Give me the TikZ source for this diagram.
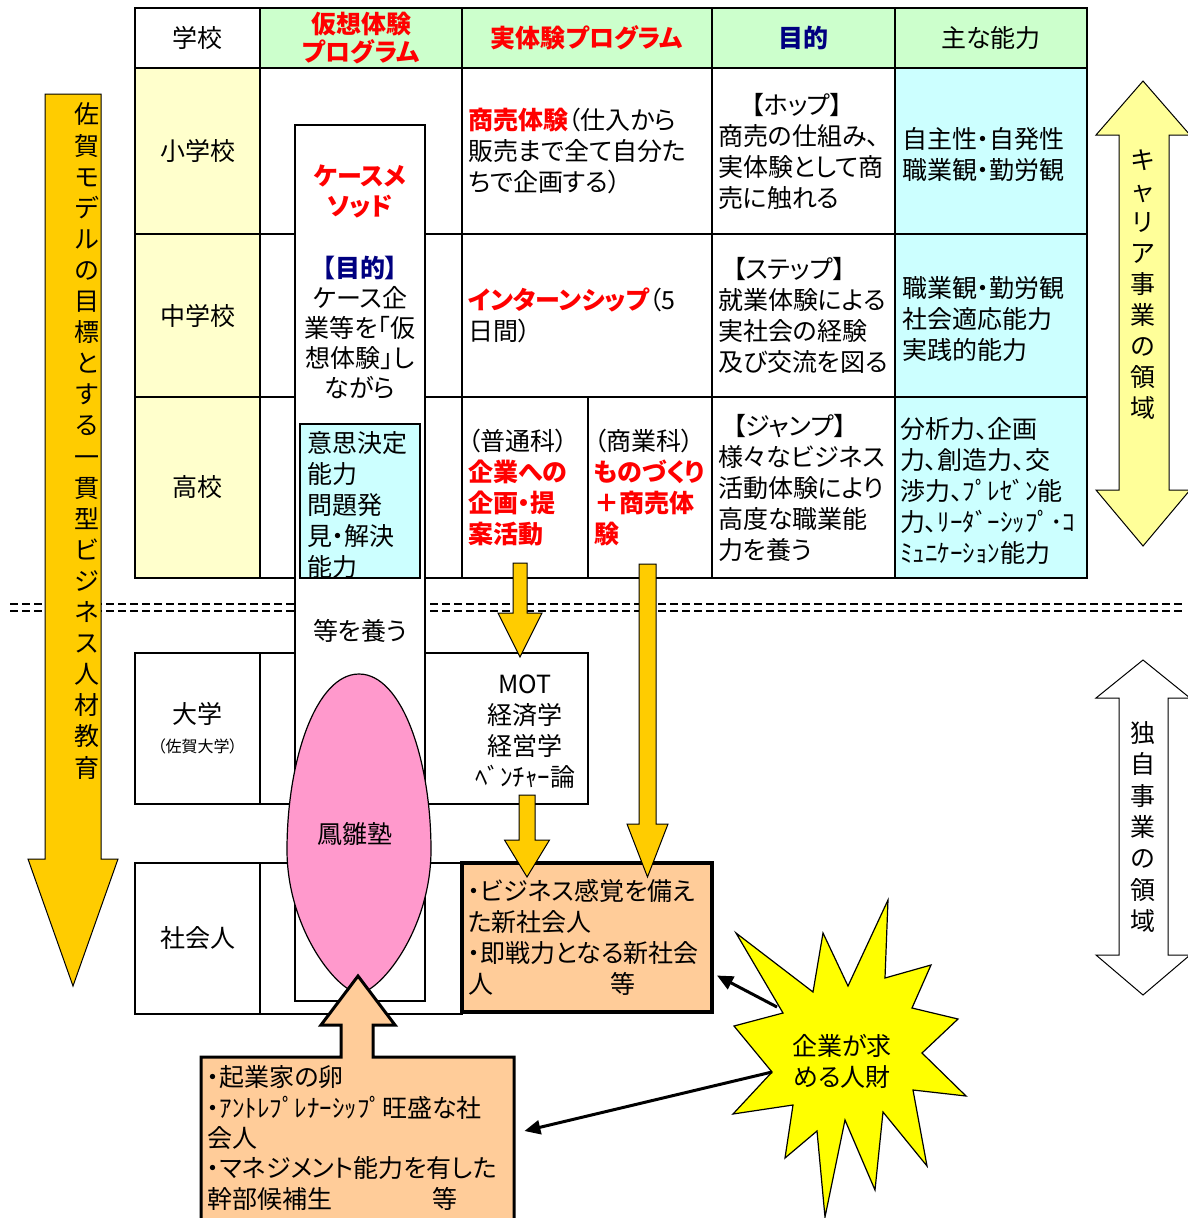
\documentclass[tikz,border=0pt]{standalone}
\usepackage{fontspec}
\setmainfont{Noto Sans CJK JP}[RawFeature={+palt}]
\usepackage{tikz}
\usetikzlibrary{positioning,shapes.geometric,arrows.meta}

\definecolor{hdrgreen}{HTML}{CCFFCC}
\definecolor{schoolyel}{HTML}{FFFFCC}
\definecolor{skillcyan}{HTML}{CCFFFF}
\definecolor{navyblue}{HTML}{000080}
\definecolor{arrowgold}{HTML}{FFCC00}
\definecolor{paleyel}{HTML}{FFFF99}
\definecolor{eggpink}{HTML}{FF99CC}
\definecolor{peach}{HTML}{FFCC99}
\definecolor{burstyel}{HTML}{FFFF00}

\begin{document}
\begin{tikzpicture}[x=1pt, y=-1pt, font=\fontsize{25}{31}\selectfont,
    cell/.style = {draw, line width=2.5pt, inner sep=0pt, align=center},
    lcell/.style = {draw, line width=2.5pt, inner xsep=6pt, inner ysep=0pt, align=left},
    thinbox/.style = {draw, line width=1.2pt, fill=white},
    blockarrow/.style = {draw, line width=1pt, fill=arrowgold},
    dashline/.style = {line width=2.5pt, dash pattern=on 8pt off 4pt},
    vtext/.style = {align=center, inner sep=0pt},
    conn/.style = {line width=3pt, -{Triangle[length=16pt,width=14pt]}}]
    \useasboundingbox (0,0) rectangle (1188,1218);

    % header row
    \node[cell, minimum width=125pt, minimum height=60pt] (hschool) at (197.5,38) {学校};
    \node[cell, fill=hdrgreen, minimum width=202pt, minimum height=60pt, text=red, font=\fontsize{25}{28}\selectfont\bfseries] (hvirt) at (361,38) {仮想体験\\プログラム};
    \node[cell, fill=hdrgreen, minimum width=250pt, minimum height=60pt, text=red, font=\fontsize{25}{31}\selectfont\bfseries] (hreal) at (587,38) {実体験プログラム};
    \node[cell, fill=hdrgreen, minimum width=183pt, minimum height=60pt, text=navyblue, font=\fontsize{25}{31}\selectfont\bfseries] (haim) at (803.5,38) {目的};
    \node[cell, fill=hdrgreen, minimum width=192pt, minimum height=60pt] (hskill) at (991,38) {主な能力};

    % school rows
    \foreach \nm/\yc/\h/\txt in {elem/151/166/小学校, junior/315.5/163/中学校, high/487.5/181/高校} {
        \node[cell, fill=schoolyel, minimum width=125pt, minimum height=\h pt] (\nm) at (197.5,\yc) {\txt};
        \node[cell, minimum width=202pt, minimum height=\h pt] (\nm-virt) at (361,\yc) {};
        \node[cell, fill=skillcyan, minimum width=192pt, minimum height=\h pt] (\nm-skill) at (991,\yc) {};
    }

    % real programmes
    \node[lcell, text width=238pt, minimum height=166pt] (elem-real) at (587,151) {{\color{red}\bfseries 商売体験}（仕入から\\販売まで全て自分た\\ちで企画する）};
    \node[lcell, text width=238pt, minimum height=163pt] (junior-real) at (587,315.5) {{\color{red}\bfseries インターンシップ}（5\\日間）};
    \node[lcell, text width=114pt, minimum height=181pt] (high-gen) at (525,487.5) {（普通科）\\{\color{red}\bfseries 企業への\\企画・提\\案活動}};
    \node[lcell, text width=112pt, minimum height=181pt] (high-com) at (650,487.5) {（商業科）\\{\color{red}\bfseries ものづくり\\＋商売体\\験}};

    % aims
    \node[lcell, text width=171pt, minimum height=166pt] (elem-aim) at (803.5,151) {\hspace*{33pt}【ホップ】\\商売の仕組み、\\実体験として商\\売に触れる};
    \node[lcell, text width=171pt, minimum height=163pt] (junior-aim) at (803.5,315.5) {\hspace*{15pt}【ステップ】\\就業体験による\\実社会の経験\\及び交流を図る};
    \node[lcell, text width=171pt, minimum height=181pt] (high-aim) at (803.5,487.5) {\hspace*{15pt}【ジャンプ】\\様々なビジネス\\活動体験により\\高度な職業能\\力を養う};

    % skills
    \node[align=left, anchor=west, inner sep=0pt] (elem-sk) at (902,155) {自主性・自発性\\職業観・勤労観};
    \node[align=left, anchor=west, inner sep=0pt] (junior-sk) at (902,319) {職業観・勤労観\\社会適応能力\\実践的能力};
    \node[align=left, anchor=west, inner sep=0pt] (high-sk) at (900,491) {分析力、企画\\力、創造力、交\\渉力、ﾌﾟﾚｾﾞﾝ能\\力、ﾘｰﾀﾞｰｼｯﾌﾟ･ｺ\\ﾐｭﾆｹｰｼｮﾝ能力};

    % border between school and university
    \draw[dashline] (10,604) -- (1185,604);
    \draw[dashline] (10,611) -- (1185,611);

    % university and working adults
    \node[cell, minimum width=125pt, minimum height=151pt] (uni) at (197.5,728.5) {大学\\[-2pt]{\fontsize{16}{20}\selectfont （佐賀大学）}};
    \node[cell, minimum width=328pt, minimum height=151pt] (uni-prog) at (424,728.5) {};
    \node[align=center] (mot) at (525,732) {MOT\\経済学\\経営学\\ﾍﾞﾝﾁｬｰ論};
    \node[cell, minimum width=125pt, minimum height=151pt] (adult) at (197.5,938.5) {社会人};
    \node[cell, minimum width=202pt, minimum height=151pt] (adult-prog) at (361,938.5) {};

    % virtual experience column
    \node[thinbox, minimum width=130pt, minimum height=876pt] (virt) at (360,563) {};
    \node[align=center, text=red, font=\fontsize{25}{30}\selectfont\bfseries] (casem) at (360,191) {ケースメ\\ソッド};
    \node[align=center, font=\fontsize{25}{30}\selectfont] (vgoal) at (360,328) {{\color{navyblue}\bfseries 【目的】}\\ケース企\\業等を「仮\\想体験」し\\ながら};
    \node[draw, line width=1.2pt, fill=skillcyan, minimum width=120pt, minimum height=154pt] (think) at (360,501) {};
    \node[align=left, anchor=west, inner sep=0pt] (think-txt) at (307,505) {意思決定\\能力\\問題発\\見・解決\\能力};
    \node (foster) at (360,631) {等を養う};

    % Houjujuku egg
    \draw[line width=1.2pt, fill=eggpink] (359,674) .. controls (402,674) and (431,760) .. (431,850)
        .. controls (431,925) and (385,988) .. (359,994) .. controls (333,988) and (287,925) .. (287,850)
        .. controls (287,760) and (316,674) .. (359,674) -- cycle;
    \node (houju) at (355,834) {鳳雛塾};

    % entrepreneurs box with arrow up to the egg
    \draw[line width=3pt, fill=peach] (201,1230) -- (201,1057) -- (341,1057) -- (341,1025) -- (321,1025) -- (358,976)
        -- (395,1025) -- (373,1025) -- (373,1057) -- (514,1057) -- (514,1230) -- cycle;
    \node[align=left, anchor=west, inner sep=0pt, text width=300pt, font=\fontsize{25}{30.3}\selectfont] (career) at (207,1138)
        {・起業家の卵\\・ｱﾝﾄﾚﾌﾟﾚﾅｰｼｯﾌﾟ旺盛な社\\会人\\・マネジメント能力を有した\\幹部候補生\hspace{100pt}等};

    % new recruits box
    \node[lcell, line width=4pt, fill=peach, text width=238pt, minimum height=149pt] (newbox) at (587,937.5)
        {・ビジネス感覚を備え\\た新社会人\\・即戦力となる新社会\\人\hspace{117pt}等};

    % yellow block arrows
    \foreach \cx/\ytop/\ybase/\ytip/\hs/\hh in {520/563/613/657/7/22, 647.5/564/824/877/8.5/20.5, 527/795/840/877/8/22.5}
        \draw[blockarrow] (\cx-\hs,\ytop) -- (\cx+\hs,\ytop) -- (\cx+\hs,\ybase) -- (\cx+\hh,\ybase) -- (\cx,\ytip)
            -- (\cx-\hh,\ybase) -- (\cx-\hs,\ybase) -- cycle;

    % left arrow
    \draw[blockarrow] (45,94) -- (101,94) -- (101,859) -- (118,859) -- (73,986) -- (28,859) -- (45,859) -- cycle;
    \node[vtext, font=\fontsize{25}{31.1}\selectfont] (goaltxt) at (87,441)
        {佐\\賀\\モ\\デ\\ル\\の\\目\\標\\と\\す\\る\\一\\貫\\型\\ビ\\ジ\\ネ\\ス\\人\\材\\教\\育};

    % right arrows
    \draw[blockarrow, fill=paleyel] (1143,81) -- (1190,135) -- (1169,135) -- (1169,490) -- (1190,490) -- (1143,546)
        -- (1096,490) -- (1119,490) -- (1119,135) -- (1096,135) -- cycle;
    \node[vtext] (careerarea) at (1143,285) {キ\\ャ\\リ\\ア\\事\\業\\の\\領\\域};
    \draw[blockarrow, fill=white] (1143,660) -- (1190,698) -- (1168,698) -- (1168,955) -- (1190,955) -- (1143,995)
        -- (1096,955) -- (1119,955) -- (1119,698) -- (1096,698) -- cycle;
    \node[vtext, font=\fontsize{25}{31.3}\selectfont] (ownarea) at (1143,827) {独\\自\\事\\業\\の\\領\\域};

    % what companies want
    \draw[line width=1.2pt, fill=burstyel] (736,933) -- (813,992) -- (823,933) -- (848,986) -- (888,900) -- (885,978)
        -- (931,965) -- (912,1008) -- (958,1019) -- (922,1053) -- (966,1096) -- (913,1090) -- (927,1166)
        -- (883,1112) -- (875,1190) -- (845,1120) -- (825,1217) -- (817,1131) -- (785,1158) -- (793,1105)
        -- (733,1114) -- (772,1072) -- (734,1026) -- (783,1013) -- cycle;
    \coordinate (burstA) at (777,1007);
    \coordinate (burstB) at (772,1072);
    \node[align=center] (want) at (842,1061) {企業が求\\める人財};
    \draw[conn] (burstA) -- ([xshift=3pt,yshift=-38pt]newbox.east);
    \draw[conn] (burstB) -- ([xshift=17pt,yshift=7pt]career.east);
\end{tikzpicture}
\end{document}
